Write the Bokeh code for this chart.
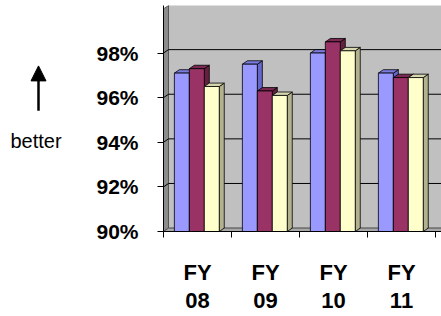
from bokeh.plotting import figure
from bokeh.layouts import row
from bokeh.models import (Range1d, FixedTicker, PrintfTickFormatter, Label,
                          Arrow, NormalHead)
from bokeh.embed import file_html
from bokeh.resources import INLINE

# ---- data ----
categories = ["FY 08", "FY 09", "FY 10", "FY 11"]
series_a = [97.1, 97.5, 98.0, 97.1]
series_b = [97.3, 96.3, 98.5, 96.9]
series_c = [96.5, 96.1, 98.1, 96.9]
y_ticks = [90, 92, 94, 96, 98]

# ---- styles ----
front_colors = ["#9999FF", "#993366", "#FFFFCC"]
side_colors = ["#6666CC", "#66203F", "#B2B28F"]
top_colors = ["#7B7BE0", "#7A2952", "#D8D8B0"]
FONT = "Liberation Sans"

TOTAL_W, TOTAL_H = 441, 316
W_LEFT = 90
BORDER_TOP, BORDER_BOTTOM = 5, 79
Y0 = 90.0
PX_X = 68.0   # pixels per category unit
PX_Y = 22.9   # pixels per percent
DX = 5.0 / PX_X
DY = 3.5 / PX_Y
BW = 0.22
X_END = (TOTAL_W - 163.0) / PX_X
Y_END = Y0 + (TOTAL_H - BORDER_BOTTOM - BORDER_TOP) / PX_Y


def pct_at(ypix):
    """value on the percent scale at a given pixel row of the picture"""
    return Y0 + (TOTAL_H - BORDER_BOTTOM - ypix) / PX_Y


yr = Range1d(Y0, Y_END)

# ---- left panel: arrow + "better" ----
p0 = figure(width=W_LEFT, height=TOTAL_H, x_range=Range1d(0, W_LEFT),
            y_range=yr, output_backend="svg", toolbar_location=None,
            min_border_left=0, min_border_right=0,
            min_border_top=BORDER_TOP, min_border_bottom=BORDER_BOTTOM,
            x_axis_location=None, y_axis_location=None,
            background_fill_color="white", border_fill_color="white",
            outline_line_color=None)
p0.xgrid.visible = False
p0.ygrid.visible = False
p0.add_layout(Arrow(end=NormalHead(size=15, fill_color="black",
                                   line_color="black"),
                    x_start=38, y_start=pct_at(113), x_end=38,
                    y_end=pct_at(67), line_width=2.5, line_color="black"))
p0.add_layout(Label(x=10, y=pct_at(144), text="better", text_font=FONT,
                    text_font_size="20px", text_baseline="alphabetic",
                    text_color="black"))

# ---- main chart ----
p = figure(width=TOTAL_W - W_LEFT, height=TOTAL_H,
           x_range=Range1d(0, X_END), y_range=yr,
           output_backend="svg", toolbar_location=None,
           min_border_left=163 - W_LEFT, min_border_right=0,
           min_border_top=BORDER_TOP, min_border_bottom=BORDER_BOTTOM,
           background_fill_color="white", border_fill_color="white",
           outline_line_color=None)
p.xgrid.visible = False
p.ygrid.visible = False

# walls and floor
p.quad(left=[DX], right=[X_END + 1], bottom=[Y0 + DY], top=[Y_END + 1],
       fill_color="#C0C0C0", line_color="#808080", line_width=1)
p.patch(x=[0, DX, DX, 0], y=[Y0, Y0 + DY, Y_END, Y_END - DY],
        fill_color="#8C8C8C", line_color="#555555", line_width=1)
p.patch(x=[0, X_END, X_END + DX, DX], y=[Y0, Y0, Y0 + DY, Y0 + DY],
        fill_color="#A8A8A8", line_color="#555555", line_width=1)

# gridlines on back wall + left wall
gv = y_ticks[1:]
p.segment(x0=[DX] * len(gv), y0=[v + DY for v in gv],
          x1=[X_END + 1] * len(gv), y1=[v + DY for v in gv],
          line_color="black", line_width=1)
p.segment(x0=[0] * len(gv), y0=gv, x1=[DX] * len(gv),
          y1=[v + DY for v in gv], line_color="black", line_width=1)

# bars
fl, fr, ft, fc = [], [], [], []
sxs, sys_, sc = [], [], []
txs, tys, tc = [], [], []
all_series = [series_a, series_b, series_c]
for i in range(len(categories)):
    for j, s in enumerate(all_series):
        v = s[i]
        L = i + 0.5 - 1.5 * BW - 0.01 + j * BW
        R = L + BW
        fl.append(L); fr.append(R); ft.append(v); fc.append(front_colors[j])
        sxs.append([R, R + DX, R + DX, R])
        sys_.append([Y0, Y0 + DY, v + DY, v])
        sc.append(side_colors[j])
        txs.append([L, R, R + DX, L + DX])
        tys.append([v, v, v + DY, v + DY])
        tc.append(top_colors[j])

p.patches(xs=sxs, ys=sys_, fill_color=sc, line_color="black", line_width=0.8)
p.patches(xs=txs, ys=tys, fill_color=tc, line_color="black", line_width=0.8)
p.quad(left=fl, right=fr, bottom=Y0, top=ft, fill_color=fc,
       line_color="black", line_width=0.8)

# axes
ya = p.yaxis[0]
ya.ticker = FixedTicker(ticks=y_ticks)
ya.formatter = PrintfTickFormatter(format="%d%%")
ya.major_tick_out = 6
ya.major_tick_in = 0
ya.minor_tick_line_color = None
ya.axis_line_color = "black"
ya.major_label_standoff = 19
ya.major_label_text_font = FONT
ya.major_label_text_font_style = "bold"
ya.major_label_text_font_size = "21px"
ya.major_label_text_color = "black"

xa = p.xaxis[0]
centers = [i + 0.5 for i in range(len(categories))]
bounds = [float(i) for i in range(len(categories) + 1)]
xa.ticker = FixedTicker(ticks=centers, minor_ticks=bounds)
xa.major_label_overrides = {c: lab.replace(" ", "\n")
                            for c, lab in zip(centers, categories)}
xa.major_tick_line_color = None
xa.major_tick_out = 0
xa.major_tick_in = 0
xa.minor_tick_out = 6
xa.minor_tick_in = 0
xa.minor_tick_line_color = "black"
xa.axis_line_color = "black"
xa.major_label_standoff = 22
xa.major_label_text_font = FONT
xa.major_label_text_font_style = "bold"
xa.major_label_text_font_size = "22px"
xa.major_label_text_color = "black"
xa.major_label_text_line_height = 1.15

open("out.html", "w").write(file_html(row(p0, p), INLINE))
